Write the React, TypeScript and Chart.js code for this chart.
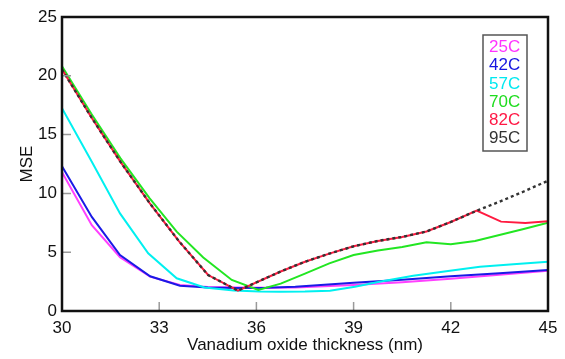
import React, { useEffect, useRef } from "react";
import { Chart, registerables } from "chart.js";

Chart.register(...registerables);

// ---- data ----
const seriesLabels = ["25C", "42C", "57C", "70C", "82C", "95C"];
const xTicks = [30, 33, 36, 39, 42, 45];
const yTicks = [0, 5, 10, 15, 20, 25];

const x25 = [30, 30.92, 31.79, 32.72, 33.64, 34.5, 35.4, 36.3, 37.2, 39, 40.5, 42, 43.5, 45];
const mse25 = [11.8, 7.3, 4.57, 2.92, 2.22, 2.05, 2.0, 1.97, 2.0, 2.22, 2.45, 2.75, 3.08, 3.42];

const x42 = [30, 30.92, 31.79, 32.72, 33.64, 34.5, 35.4, 36.3, 37.2, 39, 40.5, 42, 43.5, 45];
const mse42 = [12.3, 8.0, 4.76, 2.95, 2.15, 2.0, 1.95, 1.97, 2.07, 2.4, 2.65, 2.95, 3.2, 3.49];

const x57 = [30, 30.92, 31.79, 32.66, 33.54, 34.4, 35.3, 36.1, 36.73, 37.5, 38.27, 39.04, 39.8, 40.84, 42.03, 42.9, 43.93, 45];
const mse57 = [17.24, 12.7, 8.3, 4.9, 2.78, 2.0, 1.75, 1.65, 1.64, 1.66, 1.73, 2.07, 2.49, 3.0, 3.45, 3.77, 3.97, 4.18];

const x70 = [30, 30.9, 31.8, 32.7, 33.54, 34.36, 35.24, 36.06, 36.75, 37.5, 38.25, 39, 39.75, 40.5, 41.25, 42, 42.75, 43.5, 44.25, 45];
const mse70 = [20.8, 16.8, 13.0, 9.6, 6.75, 4.55, 2.64, 1.79, 2.33, 3.18, 4.05, 4.76, 5.15, 5.45, 5.84, 5.67, 5.95, 6.46, 6.97, 7.51];

const x82 = [30, 30.9, 31.8, 32.7, 33.6, 34.51, 35.43, 36.75, 37.5, 38.25, 39, 39.75, 40.5, 41.25, 42, 42.8, 43.55, 44.3, 45];
const mse82 = [20.55, 16.5, 12.7, 9.2, 5.97, 3.06, 1.73, 3.36, 4.19, 4.88, 5.5, 5.96, 6.3, 6.76, 7.57, 8.53, 7.6, 7.48, 7.63];

const x95 = [30, 30.9, 31.8, 32.7, 33.6, 34.51, 35.43, 36.75, 37.5, 38.25, 39, 39.75, 40.5, 41.25, 42, 42.8, 43.5, 44.25, 45];
const mse95 = [20.55, 16.5, 12.7, 9.2, 5.97, 3.06, 1.73, 3.36, 4.19, 4.88, 5.5, 5.96, 6.3, 6.76, 7.57, 8.53, 9.29, 10.16, 11.08];

const lineColors = ["#ff40ff", "#1a1ae6", "#00f0f0", "#22e622", "#ff1a40", "#333333"];
const textColors = ["#ff33ff", "#1515e0", "#00e8f0", "#1fdc1f", "#ff1744", "#333333"];

const FONT = '"Liberation Sans", Arial, sans-serif';

function pts(xs: number[], ys: number[]) {
  return xs.map((x, i) => ({ x, y: ys[i] }));
}

const framePlugin = {
  id: "framePlugin",
  afterDatasetsDraw(chart: any) {
    const { ctx, chartArea } = chart;
    const { left, right, top, bottom } = chartArea;
    const xs = chart.scales.x;
    const ys = chart.scales.y;
    ctx.save();
    // inward gray tick marks
    ctx.strokeStyle = "#9a9a9a";
    ctx.lineWidth = 1.5;
    ctx.beginPath();
    xTicks.slice(1, -1).forEach((v) => {
      const px = xs.getPixelForValue(v);
      ctx.moveTo(px, bottom);
      ctx.lineTo(px, bottom - 9);
    });
    yTicks.slice(1, -1).forEach((v) => {
      const py = ys.getPixelForValue(v);
      ctx.moveTo(left, py);
      ctx.lineTo(left + 9, py);
    });
    ctx.stroke();
    // black frame
    ctx.strokeStyle = "#111";
    ctx.lineWidth = 2.5;
    ctx.strokeRect(left, top, right - left, bottom - top);
    // legend
    const bx = right - 65;
    const by = top + 18;
    ctx.fillStyle = "#fff";
    ctx.fillRect(bx, by, 44, 116);
    ctx.strokeStyle = "#555";
    ctx.lineWidth = 1.5;
    ctx.strokeRect(bx, by, 44, 116);
    ctx.font = "17px " + FONT;
    ctx.textBaseline = "middle";
    ctx.textAlign = "left";
    seriesLabels.forEach((lab, i) => {
      ctx.fillStyle = textColors[i];
      ctx.fillText(lab, bx + 6, by + 12.5 + i * 18.16);
    });
    ctx.restore();
  },
};

export default function App() {
  const ref = useRef<HTMLCanvasElement | null>(null);
  useEffect(() => {
    const canvas = ref.current;
    if (!canvas) return;
    const xsArr = [x25, x42, x57, x70, x82, x95];
    const ysArr = [mse25, mse42, mse57, mse70, mse82, mse95];
    const orders = [5, 4, 3, 2, 1, 0];
    const datasets = seriesLabels.map((lab, i) => ({
      label: lab,
      data: pts(xsArr[i], ysArr[i]),
      borderColor: lineColors[i],
      backgroundColor: lineColors[i],
      borderWidth: i === 5 ? 2.4 : 2,
      borderDash: i === 5 ? [3, 3] : [],
      pointRadius: 0,
      tension: 0,
      fill: false,
      order: orders[i],
    }));
    const chart = new Chart(canvas, {
      type: "line",
      data: { datasets },
      options: {
        animation: false,
        responsive: false,
        devicePixelRatio: 1,
        layout: { padding: { top: 17, right: 17, left: 0, bottom: 0 } },
        plugins: { legend: { display: false }, tooltip: { enabled: false } },
        scales: {
          x: {
            type: "linear",
            min: 30,
            max: 45,
            grid: { display: false, drawTicks: false },
            border: { display: false },
            afterBuildTicks: (s: any) => {
              s.ticks = xTicks.map((v) => ({ value: v }));
            },
            afterFit: (s: any) => {
              s.height = 48;
            },
            ticks: {
              padding: 7,
              color: "#111",
              font: { family: FONT, size: 17 },
              maxRotation: 0,
              autoSkip: false,
            },
            title: {
              display: true,
              text: "Vanadium oxide thickness (nm)",
              color: "#111",
              font: { family: FONT, size: 17 },
              padding: { top: 0, bottom: 3 },
            },
          },
          y: {
            type: "linear",
            min: 0,
            max: 25,
            grid: { display: false, drawTicks: false },
            border: { display: false },
            afterBuildTicks: (s: any) => {
              s.ticks = yTicks.map((v) => ({ value: v }));
            },
            afterFit: (s: any) => {
              s.width = 62;
            },
            ticks: {
              padding: 5,
              color: "#111",
              font: { family: FONT, size: 17 },
            },
            title: {
              display: true,
              text: "MSE",
              color: "#111",
              font: { family: FONT, size: 17 },
              padding: { top: 17, bottom: 0 },
            },
          },
        },
      },
      plugins: [framePlugin],
    } as any);
    return () => chart.destroy();
  }, []);
  return (
    <div style={{ position: "fixed", left: 0, top: 0, width: 565, height: 359, background: "#fff" }}>
      <canvas ref={ref} width={565} height={359} style={{ display: "block", width: 565, height: 359 }} />
    </div>
  );
}
